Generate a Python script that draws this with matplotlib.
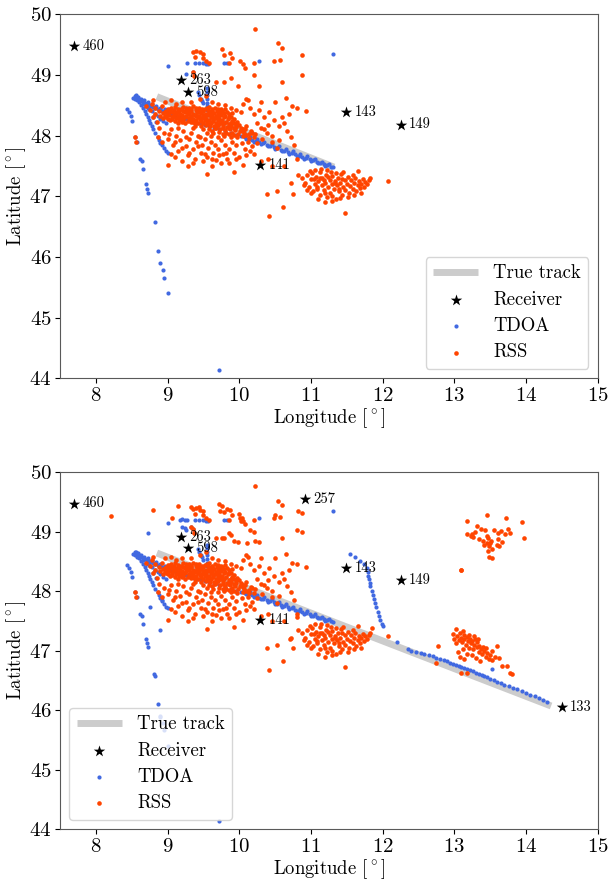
import matplotlib
matplotlib.use('Agg')
import matplotlib.pyplot as plt

plt.rcParams['font.family'] = 'serif'
plt.rcParams['font.serif'] = ['cmr10', 'DejaVu Serif']
plt.rcParams['mathtext.fontset'] = 'cm'
plt.rcParams['axes.formatter.use_mathtext'] = True

# receivers: name, lon, lat
rx_names_top = ['460', '263', '598', '143', '149', '141']
rx_lon_top = [7.70, 9.19, 9.29, 11.49, 12.25, 10.29]
rx_lat_top = [49.47, 48.91, 48.72, 48.38, 48.18, 47.52]
rx_names_bot = ['460', '263', '598', '143', '149', '141', '257', '133']
rx_lon_bot = [7.70, 9.19, 9.29, 11.49, 12.25, 10.29, 10.92, 14.50]
rx_lat_bot = [49.47, 48.91, 48.72, 48.38, 48.18, 47.52, 49.54, 46.05]

# true track
track_lon_top = [8.85, 11.32]
track_lat_top = [48.64, 47.48]
track_lon_bot = [8.85, 11.32, 14.35]
track_lat_bot = [48.64, 47.48, 46.07]

# TDOA estimates seen in both panels
tdoa_track = [
    (8.52, 48.62), (8.54, 48.65), (8.55, 48.60), (8.57, 48.63), (8.58, 48.58), (8.60, 48.61),
    (8.62, 48.57), (8.65, 48.56), (8.68, 48.54), (8.71, 48.52), (8.74, 48.51), (8.77, 48.49),
    (8.80, 48.47), (8.83, 48.46), (8.86, 48.44), (8.89, 48.43), (8.92, 48.41), (8.95, 48.40),
    (8.98, 48.38), (9.01, 48.37), (9.05, 48.35), (9.09, 48.33), (9.13, 48.31), (9.17, 48.30),
    (9.21, 48.28), (9.25, 48.27), (9.29, 48.25), (9.33, 48.24), (9.37, 48.22), (9.41, 48.21),
    (9.46, 48.19), (9.52, 48.17), (9.58, 48.15), (9.65, 48.12), (9.72, 48.10), (9.80, 48.07),
    (9.88, 48.04), (9.96, 48.01), (10.03, 47.99), (10.08, 47.97), (10.13, 47.95), (10.18, 47.93),
    (10.23, 47.91), (10.28, 47.89), (10.33, 47.87), (10.38, 47.85), (10.43, 47.83), (10.48, 47.81),
    (10.53, 47.79), (10.58, 47.77), (10.63, 47.75), (10.68, 47.73), (10.73, 47.71), (10.78, 47.69),
    (10.83, 47.67), (10.88, 47.65), (10.93, 47.63), (10.98, 47.61), (11.03, 47.59), (11.08, 47.57),
    (11.13, 47.55), (11.18, 47.53), (11.23, 47.51), (11.28, 47.49), (11.31, 47.48),
    (10.10, 47.95), (10.20, 47.90), (10.30, 47.86), (10.40, 47.82), (10.50, 47.78), (10.60, 47.74),
    (10.70, 47.70), (10.80, 47.66), (10.90, 47.62), (11.00, 47.58), (11.10, 47.54), (11.20, 47.50),
    (10.15, 47.98), (10.25, 47.94), (10.35, 47.90), (10.45, 47.86), (10.55, 47.82), (10.65, 47.78),
    (10.75, 47.74), (10.85, 47.70), (10.95, 47.66), (11.05, 47.62), (11.15, 47.57), (11.25, 47.53),
    (8.56, 48.66), (8.59, 48.64), (8.63, 48.60), (8.67, 48.58), (8.72, 48.55), (8.78, 48.52),
    (8.84, 48.49), (8.90, 48.46), (8.96, 48.43), (9.03, 48.39), (9.10, 48.36), (9.18, 48.32),
]
tdoa_branch = [
    (8.60, 48.56), (8.63, 48.50), (8.66, 48.45), (8.68, 48.40), (8.70, 48.35), (8.72, 48.30),
    (8.74, 48.25), (8.76, 48.20), (8.78, 48.15), (8.80, 48.10), (8.83, 48.04), (8.86, 47.98),
    (8.88, 47.93), (8.90, 47.88), (8.92, 47.84), (8.95, 47.79), (8.98, 47.74), (9.00, 47.71),
    (8.66, 48.52), (8.70, 48.48), (8.74, 48.44), (8.78, 48.40), (8.82, 48.36), (8.86, 48.32),
    (8.90, 48.28), (8.94, 48.24), (8.98, 48.20), (8.72, 48.46), (8.80, 48.30), (8.84, 48.22),
]
tdoa_scatter = [
    (8.44, 48.44), (8.46, 48.39), (8.49, 48.32), (8.51, 48.24), (8.55, 47.98), (8.57, 47.90),
    (8.62, 47.62), (8.64, 47.58), (8.66, 47.45), (8.70, 47.20), (8.71, 47.12), (8.72, 47.06),
    (8.82, 46.57), (8.87, 46.10), (8.90, 45.90), (8.93, 45.78), (8.95, 45.66), (9.00, 45.40),
    (9.72, 44.13),
    (9.01, 49.15), (9.27, 49.19), (9.38, 49.19), (9.44, 49.19), (9.49, 49.19), (9.53, 49.18),
    (9.57, 49.18), (9.78, 49.19), (9.83, 49.19), (10.28, 49.23), (11.31, 49.34),
    (9.25, 49.02), (9.36, 49.05),
    (9.42, 48.71), (9.44, 48.66), (9.46, 48.61), (9.48, 48.57), (9.50, 48.53),
    (9.55, 48.78), (9.55, 48.72), (9.55, 48.66), (9.55, 48.60), (9.55, 48.54), (9.55, 48.48),
    (9.55, 48.42),
]
# TDOA estimates seen only in the lower panel
tdoa_extra_bot = [
    (8.73, 48.98), (9.17, 49.20), (9.20, 49.21), (9.24, 49.20), (9.20, 49.07), (9.24, 49.06),
    (9.33, 49.07), (8.76, 47.74), (8.90, 47.34), (8.92, 47.85), (8.81, 46.61), (8.90, 45.88),
    (11.55, 48.62), (11.62, 48.57), (11.69, 48.51), (11.74, 48.45), (11.78, 48.38), (11.79, 48.32),
    (11.80, 48.26), (11.81, 48.20), (11.82, 48.14), (11.83, 48.08), (11.85, 48.01), (11.86, 47.94),
    (11.88, 47.87), (11.89, 47.80), (11.91, 47.73), (11.93, 47.65), (11.95, 47.58), (11.97, 47.51),
    (11.99, 47.45), (12.01, 47.42),
    (12.20, 47.15), (12.36, 47.02), (12.40, 47.00), (12.47, 46.98), (12.53, 46.96), (12.58, 46.95),
    (12.64, 46.93), (12.70, 46.91), (12.74, 46.88), (12.80, 46.86),
    (12.86, 46.84), (12.90, 46.82), (12.94, 46.80), (12.98, 46.78), (13.02, 46.76), (13.06, 46.74),
    (13.10, 46.72), (13.14, 46.71), (13.18, 46.69), (13.22, 46.67), (13.26, 46.65), (13.30, 46.63),
    (13.34, 46.61), (13.38, 46.59), (13.42, 46.57), (13.46, 46.55), (13.50, 46.53), (13.55, 46.51),
    (13.60, 46.48), (13.65, 46.46), (13.70, 46.43), (13.76, 46.41), (13.82, 46.38), (13.88, 46.35),
    (13.94, 46.32), (14.00, 46.29), (14.06, 46.26), (14.12, 46.23), (14.18, 46.20), (14.24, 46.17),
    (14.30, 46.14), (13.53, 46.69),
]

# RSS estimates seen in both panels
rss_core = [
    (9.05, 48.46), (9.14, 48.44), (9.22, 48.47), (9.30, 48.45), (9.36, 48.48), (9.44, 48.46),
    (9.52, 48.44), (9.58, 48.47), (9.66, 48.45), (9.74, 48.43),
    (8.98, 48.41), (9.03, 48.40), (9.09, 48.42), (9.16, 48.40), (9.21, 48.41), (9.27, 48.42),
    (9.33, 48.40), (9.39, 48.42), (9.45, 48.41), (9.50, 48.40), (9.56, 48.42), (9.62, 48.41),
    (9.69, 48.40), (9.76, 48.41), (9.83, 48.39),
    (8.93, 48.37), (9.00, 48.36), (9.06, 48.38), (9.12, 48.37), (9.18, 48.36), (9.24, 48.38),
    (9.30, 48.37), (9.35, 48.36), (9.41, 48.38), (9.47, 48.37), (9.53, 48.36), (9.59, 48.38),
    (9.65, 48.37), (9.71, 48.36), (9.78, 48.37), (9.86, 48.35),
    (8.90, 48.33), (8.96, 48.32), (9.02, 48.34), (9.08, 48.33), (9.14, 48.32), (9.20, 48.34),
    (9.26, 48.33), (9.32, 48.32), (9.38, 48.34), (9.44, 48.33), (9.50, 48.32), (9.56, 48.34),
    (9.62, 48.33), (9.68, 48.32), (9.74, 48.34), (9.80, 48.32), (9.88, 48.31),
    (8.94, 48.29), (9.00, 48.28), (9.06, 48.30), (9.12, 48.29), (9.18, 48.28), (9.24, 48.30),
    (9.30, 48.29), (9.36, 48.28), (9.42, 48.30), (9.48, 48.29), (9.54, 48.28), (9.60, 48.30),
    (9.66, 48.29), (9.72, 48.28), (9.78, 48.30), (9.84, 48.28), (9.92, 48.27),
    (9.03, 48.25), (9.10, 48.24), (9.16, 48.26), (9.22, 48.25), (9.28, 48.24), (9.34, 48.26),
    (9.40, 48.25), (9.46, 48.24), (9.52, 48.26), (9.58, 48.25), (9.64, 48.24), (9.70, 48.26),
    (9.76, 48.25), (9.82, 48.23), (9.90, 48.24), (9.97, 48.22),
    (9.14, 48.21), (9.24, 48.20), (9.33, 48.22), (9.42, 48.21), (9.49, 48.20), (9.55, 48.22),
    (9.61, 48.21), (9.67, 48.20), (9.73, 48.22), (9.79, 48.20), (9.85, 48.19), (9.92, 48.20),
    (10.00, 48.18),
    (9.38, 48.16), (9.46, 48.15), (9.53, 48.17), (9.59, 48.16), (9.65, 48.15), (9.71, 48.17),
    (9.77, 48.15), (9.83, 48.14), (9.89, 48.16), (9.95, 48.14), (10.03, 48.13), (10.10, 48.15),
    (9.50, 48.11), (9.58, 48.10), (9.66, 48.12), (9.73, 48.10), (9.80, 48.09), (9.87, 48.11),
    (9.94, 48.09), (10.01, 48.08), (10.08, 48.10), (10.16, 48.07),
    (9.55, 48.05), (9.64, 48.04), (9.72, 48.06), (9.81, 48.04), (9.90, 48.05), (9.98, 48.03),
    (10.06, 48.04), (10.14, 48.02), (10.22, 48.03),
    (9.60, 47.99), (9.70, 47.98), (9.79, 48.00), (9.88, 47.98), (9.97, 47.97), (10.05, 47.99),
    (10.13, 47.96), (10.21, 47.97),
    (9.10, 48.35), (9.20, 48.31), (9.28, 48.35), (9.40, 48.32), (9.52, 48.30), (9.60, 48.35),
    (9.70, 48.31), (9.45, 48.27), (9.35, 48.23), (9.63, 48.27), (9.75, 48.21), (9.68, 48.13),
    (9.85, 48.12), (9.95, 48.18), (10.05, 48.07), (9.77, 48.03), (9.92, 48.01), (10.10, 48.01),
    (9.01, 48.44), (9.11, 48.47), (9.19, 48.43), (9.25, 48.45), (9.33, 48.43), (9.40, 48.45),
    (9.48, 48.43), (9.55, 48.45), (9.62, 48.43), (9.70, 48.44), (9.80, 48.44), (8.96, 48.39),
    (9.13, 48.39), (9.29, 48.39), (9.43, 48.39), (9.58, 48.39), (9.73, 48.39), (9.90, 48.37),
    (8.98, 48.31), (9.15, 48.30), (9.33, 48.30), (9.51, 48.34), (9.70, 48.29), (9.85, 48.30),
    (9.06, 48.27), (9.20, 48.23), (9.38, 48.20), (9.56, 48.19), (9.70, 48.18), (9.88, 48.21),
    (9.62, 48.08), (9.77, 48.12), (9.92, 48.12), (10.05, 48.10), (10.18, 48.05), (9.85, 48.02),
]
rss_halo = [
    (8.78, 48.52), (8.82, 48.45), (8.80, 48.30), (8.85, 48.22), (8.88, 48.12), (8.86, 47.98),
    (8.97, 48.55), (9.05, 48.58), (9.12, 48.52), (9.20, 48.56), (9.32, 48.55), (9.45, 48.60),
    (9.62, 48.55), (9.70, 48.52), (9.80, 48.50), (9.88, 48.46), (9.95, 48.42), (10.02, 48.38),
    (10.05, 48.52), (10.12, 48.58), (10.15, 48.46), (10.20, 48.35), (10.28, 48.42), (10.35, 48.30),
    (10.30, 48.55), (10.42, 48.38), (10.48, 48.25), (10.55, 48.15), (10.60, 48.30), (10.67, 48.08),
    (10.72, 47.98), (10.76, 47.85), (10.80, 48.45), (10.65, 48.62), (10.50, 48.55),
    (8.95, 48.05), (9.00, 47.95), (9.05, 48.10), (9.08, 47.85), (9.12, 48.00), (9.15, 47.75),
    (9.18, 47.92), (9.22, 48.08), (9.25, 47.82), (9.28, 47.68), (9.30, 47.95), (9.33, 48.05),
    (9.36, 47.78), (9.38, 47.62), (9.40, 47.90), (9.43, 48.00), (9.46, 47.72), (9.48, 47.85),
    (9.52, 47.95), (9.55, 47.65), (9.57, 47.80), (9.60, 47.90), (9.63, 47.72), (9.66, 47.85),
    (9.68, 47.60), (9.71, 47.78), (9.74, 47.92), (9.77, 47.70), (9.80, 47.85), (9.83, 47.62),
    (9.86, 47.78), (9.90, 47.90), (9.93, 47.72), (9.96, 47.84), (10.00, 47.65), (10.04, 47.88),
    (10.08, 47.78), (10.12, 47.90), (10.18, 47.82), (10.25, 47.88), (10.32, 47.95), (10.38, 48.05),
    (10.45, 47.90), (10.52, 47.80), (10.40, 48.18), (10.30, 48.12), (10.25, 48.20), (10.35, 48.10),
    (9.20, 47.58), (9.05, 47.70), (8.92, 47.90), (9.00, 47.52), (9.28, 47.50), (9.55, 47.37),
    (9.50, 47.58), (9.75, 47.55), (9.92, 47.40), (10.10, 47.68), (10.30, 47.58), (10.40, 47.62),
    (10.05, 47.52), (8.88, 48.40), (8.92, 48.48), (8.83, 48.36), (8.76, 48.42), (8.70, 48.48),
    (8.80, 48.58), (8.55, 47.98), (8.56, 47.90), (9.10, 47.65), (9.35, 47.55), (9.62, 47.50),
    (9.85, 47.55), (10.20, 47.70), (9.15, 48.12), (9.25, 47.98), (9.35, 48.12), (9.45, 47.98),
    (9.02, 48.02), (9.10, 47.90), (9.20, 47.80), (9.30, 47.72), (9.42, 47.82), (9.52, 47.70),
    (9.62, 47.62), (9.72, 47.68), (9.82, 47.72), (9.95, 47.62), (10.15, 47.75), (10.45, 48.00),
    (10.55, 47.92), (10.62, 48.20), (10.70, 48.35),
]
rss_upper = [
    (9.35, 49.38), (9.40, 49.39), (9.45, 49.37), (9.50, 49.34), (9.38, 49.30), (9.50, 49.28),
    (9.76, 49.43), (9.79, 49.33), (9.87, 49.36), (9.90, 49.28), (9.86, 49.20), (10.01, 49.22),
    (10.05, 49.18), (10.08, 49.12), (10.20, 49.20), (10.21, 49.00), (10.28, 48.82), (10.54, 49.52),
    (10.60, 49.44), (10.49, 49.22), (10.57, 49.25), (10.59, 48.89), (10.87, 49.32), (10.87, 48.99),
    (10.93, 48.40), (10.74, 48.48), (9.79, 48.89), (9.89, 48.95), (9.98, 48.82), (9.35, 49.05),
    (9.37, 48.98), (9.68, 48.89), (9.54, 48.65), (10.10, 48.60), (10.22, 49.76), (9.58, 49.20),
    (9.53, 49.22),
]
rss_se = [
    (10.88, 47.30), (10.92, 47.22), (10.95, 47.35), (10.97, 47.15), (11.00, 47.28), (11.02, 47.38),
    (11.03, 47.08), (11.05, 47.20), (11.07, 47.32), (11.08, 47.12), (11.10, 47.25), (11.12, 47.40),
    (11.13, 47.02), (11.15, 47.18), (11.16, 47.30), (11.18, 47.10), (11.20, 47.22), (11.21, 47.35),
    (11.23, 46.98), (11.24, 47.15), (11.26, 47.27), (11.27, 47.05), (11.29, 47.20), (11.30, 47.33),
    (11.32, 47.12), (11.33, 47.25), (11.35, 46.95), (11.36, 47.18), (11.38, 47.30), (11.39, 47.08),
    (11.41, 47.22), (11.42, 47.36), (11.44, 47.02), (11.45, 47.15), (11.47, 47.27), (11.48, 47.10),
    (11.50, 47.20), (11.51, 47.32), (11.53, 47.05), (11.55, 47.17), (11.56, 47.26), (11.58, 47.12),
    (11.60, 47.22), (11.62, 47.30), (11.63, 47.08), (11.65, 47.18), (11.67, 47.25), (11.68, 47.13),
    (11.70, 47.21), (11.72, 47.28), (11.74, 47.16), (11.76, 47.24), (11.78, 47.20), (11.81, 47.27),
    (11.83, 47.30), (10.98, 47.42), (11.06, 47.44), (11.14, 47.45), (11.22, 47.43), (11.00, 47.05),
    (11.10, 46.95), (11.20, 46.90), (11.30, 46.92), (11.40, 46.97), (11.52, 46.98), (11.60, 47.02),
    (11.70, 47.05), (11.28, 47.40), (11.35, 47.38), (11.45, 47.40), (11.58, 47.35), (11.66, 47.42),
    (10.95, 47.10), (10.90, 47.18), (11.04, 47.28), (11.12, 47.30), (11.18, 47.26), (11.24, 47.32),
    (11.34, 47.22), (11.43, 47.29), (11.09, 47.16), (11.19, 47.05), (11.29, 47.00), (11.39, 47.12),
    (12.07, 47.25), (10.39, 47.04), (10.41, 46.68), (10.61, 46.83), (10.53, 47.09), (11.48, 46.72),
    (10.75, 47.04), (10.72, 47.22), (10.82, 47.35), (10.45, 47.50), (10.80, 47.62), (10.62, 47.50),
]
# RSS estimates seen only in the lower panel
rss_extra_bot = [
    (8.21, 49.26), (8.80, 49.36), (9.06, 49.23), (9.15, 49.43), (9.32, 49.41), (9.44, 49.41),
    (9.72, 49.46), (9.73, 49.34), (9.83, 49.38), (10.00, 49.30), (10.04, 49.23), (10.03, 49.18),
    (10.50, 49.28), (10.82, 49.34), (10.81, 49.03), (10.15, 49.03), (9.32, 49.08), (9.76, 48.90),
    (9.85, 48.97), (9.93, 48.85), (10.11, 48.80), (10.22, 48.85), (10.80, 47.56), (10.71, 47.20),
    (11.85, 47.38),
    (13.03, 47.36), (12.77, 47.08), (12.74, 46.79), (13.09, 46.62), (13.18, 46.62), (13.60, 47.07),
    (13.62, 46.87), (13.67, 46.74), (13.74, 46.74), (13.80, 46.61), (13.78, 46.62), (13.09, 48.36),
    (12.98, 47.28), (13.00, 47.20), (13.02, 47.12), (13.04, 47.25), (13.06, 47.18), (13.08, 47.30),
    (13.10, 47.22), (13.11, 47.14), (13.13, 47.26), (13.14, 47.19), (13.16, 47.09), (13.17, 47.23),
    (13.19, 47.16), (13.20, 47.05), (13.22, 47.20), (13.23, 47.12), (13.25, 47.17), (13.26, 47.02),
    (13.28, 47.10), (13.29, 47.19), (13.31, 47.06), (13.32, 47.14), (13.34, 46.98), (13.35, 47.08),
    (13.37, 47.02), (13.39, 46.94), (13.40, 47.06), (13.42, 46.99), (13.44, 46.90), (13.46, 46.96),
    (13.48, 46.86), (13.50, 46.93), (13.53, 46.84), (13.12, 47.02), (13.18, 46.95), (13.05, 46.98),
    (13.24, 46.92), (13.30, 46.88), (13.36, 46.82), (13.14, 46.86), (13.08, 46.90), (13.20, 47.27),
    (13.27, 47.24), (13.12, 47.33), (13.33, 47.20), (13.44, 47.04), (13.52, 46.99), (13.57, 46.90),
    (13.18, 49.18), (13.46, 49.28), (13.72, 49.23), (13.95, 49.16), (13.97, 48.90), (13.17, 48.96),
    (13.24, 48.96), (13.26, 48.91), (13.32, 49.09), (13.37, 49.04), (13.43, 49.03), (13.34, 48.87),
    (13.40, 48.85), (13.45, 48.93), (13.47, 48.89), (13.45, 48.81), (13.51, 48.84), (13.48, 48.75),
    (13.52, 48.71), (13.47, 48.67), (13.49, 48.57), (13.53, 48.56), (13.55, 49.03), (13.61, 48.98),
    (13.65, 49.01), (13.61, 48.88), (13.66, 48.82), (13.60, 48.78), (13.63, 48.75), (13.75, 49.05),
    (13.78, 48.97), (13.71, 48.96), (13.23, 48.92), (13.29, 49.00), (13.42, 48.78), (13.50, 48.80),
    (13.10, 48.36),
]

TDOA_COLOR = '#4169e1'
RSS_COLOR = '#ff4500'


def split(points):
    return [p[0] for p in points], [p[1] for p in points]


def draw(ax, track_lon, track_lat, tdoa, rss, names, rlon, rlat, loc):
    ax.plot(track_lon, track_lat, color='#cccccc', lw=5, solid_capstyle='butt',
            zorder=1, label='True track')
    tx, ty = split(tdoa)
    rx, ry = split(rss)
    ax.scatter(rlon, rlat, marker='*', s=75, color='black', lw=0, zorder=5, label='Receiver')
    ax.scatter(tx, ty, s=9, color=TDOA_COLOR, lw=0, zorder=2, label='TDOA')
    ax.scatter(rx, ry, s=11, color=RSS_COLOR, lw=0, zorder=3, label='RSS')
    for n, x, y in zip(names, rlon, rlat):
        ax.annotate(n, (x, y), xytext=(6, 0), textcoords='offset points',
                    va='center', fontsize=10.5, zorder=6)
    ax.set_xlim(7.5, 15)
    ax.set_ylim(44, 50)
    ax.set_xlabel(r'Longitude [$^\circ$]', fontsize=13.5, labelpad=1)
    ax.set_ylabel(r'Latitude [$^\circ$]', fontsize=13.5, labelpad=1)
    ax.tick_params(labelsize=15, pad=2.5)
    for s in ax.spines.values():
        s.set_color('0.35')
    leg = ax.legend(loc=loc, fontsize=13.5, handlelength=2.4, labelspacing=0.45)
    return leg


fig = plt.figure(figsize=(6.13, 8.84), dpi=100)
ax1 = fig.add_axes([0.098, 0.572, 0.877, 0.412])
ax2 = fig.add_axes([0.098, 0.062, 0.877, 0.404])

draw(ax1, track_lon_top, track_lat_top, tdoa_track + tdoa_branch + tdoa_scatter,
     rss_halo + rss_core + rss_upper + rss_se,
     rx_names_top, rx_lon_top, rx_lat_top, 'lower right')
draw(ax2, track_lon_bot, track_lat_bot,
     tdoa_track + tdoa_branch + tdoa_scatter + tdoa_extra_bot,
     rss_halo + rss_core + rss_upper + rss_se + rss_extra_bot,
     rx_names_bot, rx_lon_bot, rx_lat_bot, 'lower left')

fig.savefig('out.png', dpi=100)
